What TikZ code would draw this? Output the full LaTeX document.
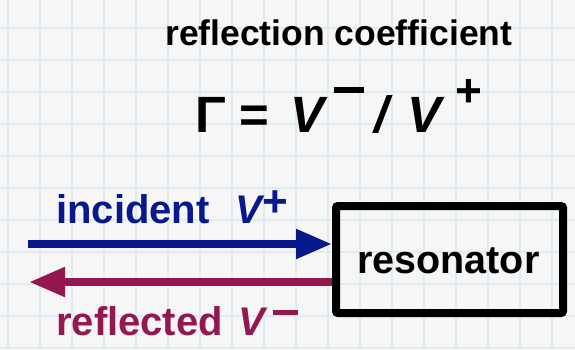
\documentclass[tikz,border=0pt]{standalone}
\usepackage{fontspec}
\setmainfont{Liberation Sans}
\usetikzlibrary{arrows.meta}
\definecolor{paper}{HTML}{F6F6F6}
\definecolor{gridline}{HTML}{DFEBF1}
\definecolor{incblue}{HTML}{07198C}
\definecolor{refmaroon}{HTML}{931850}
\tikzset{
  label/.style={font=\bfseries, inner sep=0pt, anchor=base west},
  wave/.style={line width=8pt, -{Triangle[length=36pt,width=28pt]}},
  box/.style={draw=black, line width=8pt, rounded corners=2pt, inner sep=0pt}
}
% superscript signs: a heavy bar for minus, an enlarged plus
\newcommand{\supminus}[3]{\raisebox{#1}{\rule{#2}{#3}}}
\newcommand{\supplus}[2]{\raisebox{#1}{\fontsize{#2}{#2}\selectfont\bfseries +}}
\begin{document}
\begin{tikzpicture}[x=1pt,y=-1pt]
  % paper with a light square grid
  \fill[paper] (0,0) rectangle (575,349);
  \useasboundingbox (0,0) rectangle (575,349);
  \foreach \gx in {8,40,...,570} \draw[gridline, line width=1.4pt] (\gx,0) -- (\gx,349);
  \foreach \gy in {28,60,...,349} \draw[gridline, line width=1.4pt] (0,\gy) -- (575,\gy);

  % heading and definition
  \node[label, font=\fontsize{35.5}{38}\selectfont\bfseries] (title) at (165,45) {reflection coefficient};
  \node[label, font=\fontsize{51}{56}\selectfont\bfseries] (gamma) at (195,132)
    {Γ\hspace{14pt}=\hspace{21pt}\textit{V}\hspace{6pt}\supminus{39.3pt}{30pt}{5.5pt}\hspace{10pt}\textit{/}\hspace{15pt}\textit{V}\hspace{10pt}\supplus{26pt}{46pt}};

  % resonator block
  \node[box, minimum width=227pt, minimum height=107pt] (res) at (449.5,259.5) {};
  \node[label, font=\fontsize{39.5}{44}\selectfont\bfseries] (restext) at (357,273) {resonator};

  % travelling waves
  \coordinate (src) at (28,244);
  \coordinate (sink) at (29,282);
  \draw[wave, incblue] (src) -- (res.west |- src);
  \draw[wave, refmaroon] (res.west |- sink) -- (sink);

  \node[label, text=incblue, font=\fontsize{40}{44}\selectfont\bfseries] (inc) at (56,223)
    {incident\hspace{26pt}\textit{V}\hspace{-3pt}\supplus{7pt}{44pt}};
  \node[label, text=refmaroon, font=\fontsize{40}{44}\selectfont\bfseries] (refl) at (56,335)
    {reflected\hspace{16pt}\textit{V}\hspace{5pt}{\color{refmaroon}\supminus{20.5pt}{25pt}{5pt}}};
\end{tikzpicture}
\end{document}
